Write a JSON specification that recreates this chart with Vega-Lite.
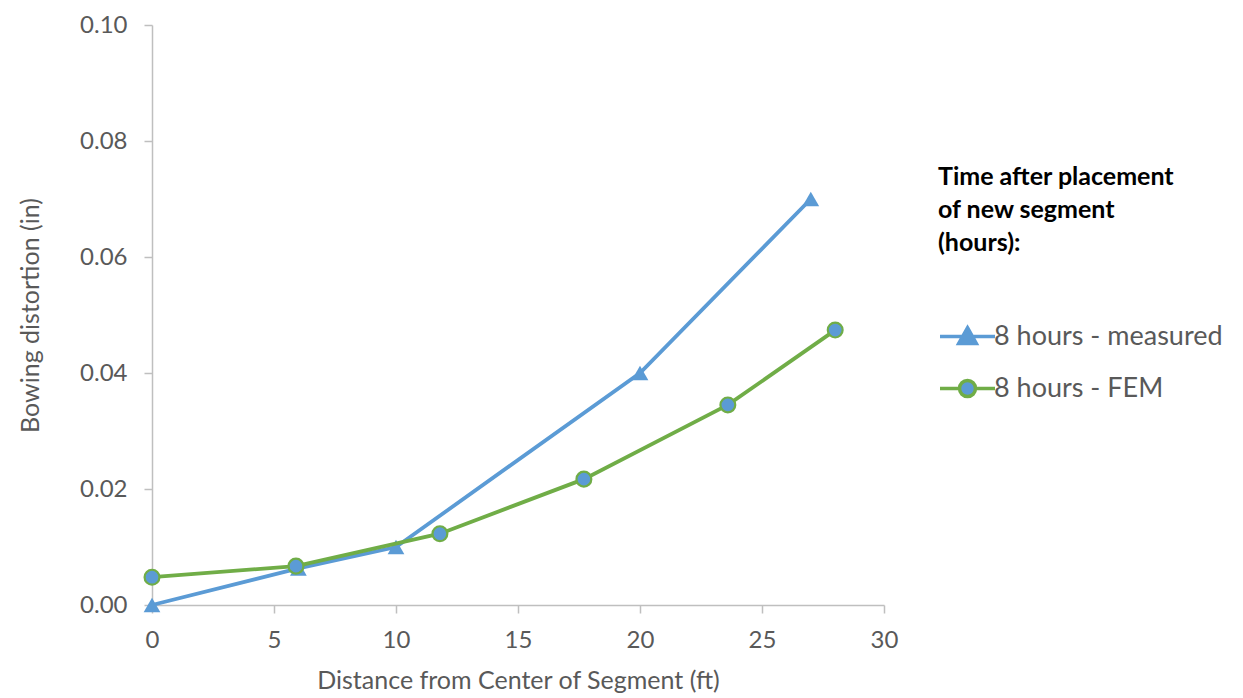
{
  "$schema": "https://vega.github.io/schema/vega-lite/v6.json",
  "width": 732,
  "height": 580,
  "autosize": "none",
  "padding": {"left": 152, "top": 25, "right": 359, "bottom": 93},
  "background": "white",
  "config": {
    "view": {"stroke": null},
    "font": "Lato",
    "axis": {
      "grid": false,
      "domainColor": "#bfbfbf",
      "domainWidth": 1.5,
      "tickColor": "#bfbfbf",
      "tickWidth": 1.5,
      "tickSize": 8,
      "labelColor": "#595959",
      "labelFont": "Lato",
      "labelFontSize": 24,
      "labelFlush": false,
      "titleColor": "#595959",
      "titleFont": "Lato",
      "titleFontSize": 25,
      "titleFontWeight": "normal"
    }
  },
  "data": {
    "values": [
      {"series": "8 hours - measured", "x": 0, "y": 0.0},
      {"series": "8 hours - measured", "x": 6, "y": 0.0063},
      {"series": "8 hours - measured", "x": 10, "y": 0.0100},
      {"series": "8 hours - measured", "x": 20, "y": 0.0400},
      {"series": "8 hours - measured", "x": 27, "y": 0.0700},
      {"series": "8 hours - FEM", "x": 0, "y": 0.0048},
      {"series": "8 hours - FEM", "x": 5.9, "y": 0.0067},
      {"series": "8 hours - FEM", "x": 11.8, "y": 0.0123},
      {"series": "8 hours - FEM", "x": 17.7, "y": 0.0217},
      {"series": "8 hours - FEM", "x": 23.6, "y": 0.0345},
      {"series": "8 hours - FEM", "x": 28, "y": 0.0474}
    ]
  },
  "encoding": {
    "x": {
      "field": "x",
      "type": "quantitative",
      "scale": {"domain": [0, 30], "nice": false, "zero": false},
      "axis": {"values": [0, 5, 10, 15, 20, 25, 30], "title": "Distance from Center of Segment (ft)", "labelPadding": 15, "titlePadding": 16}
    },
    "y": {
      "field": "y",
      "type": "quantitative",
      "scale": {"domain": [0, 0.1], "nice": false},
      "axis": {"values": [0, 0.02, 0.04, 0.06, 0.08, 0.1], "format": ".2f", "title": "Bowing distortion (in)", "labelPadding": 17, "titlePadding": 36}
    }
  },
  "layer": [
    {
      "transform": [{"filter": "datum.series == '8 hours - measured'"}],
      "mark": {"type": "line", "color": "#5B9BD5", "strokeWidth": 3.8}
    },
    {
      "transform": [{"filter": "datum.series == '8 hours - measured'"}],
      "mark": {"type": "point", "shape": "triangle-up", "filled": true, "color": "#5B9BD5", "opacity": 1, "size": 280}
    },
    {
      "transform": [{"filter": "datum.series == '8 hours - FEM'"}],
      "mark": {"type": "line", "color": "#70AD47", "strokeWidth": 3.8}
    },
    {
      "transform": [{"filter": "datum.series == '8 hours - FEM'"}],
      "mark": {"type": "point", "shape": "circle", "filled": true, "fill": "#5B9BD5", "stroke": "#70AD47", "strokeWidth": 2.2, "opacity": 1, "size": 220}
    },
    {
      "mark": {"type": "point", "filled": true, "size": 0, "strokeWidth": 3.5, "opacity": 1},
      "encoding": {
        "shape": {
          "field": "series",
          "type": "nominal",
          "scale": {
            "domain": ["8 hours - measured", "8 hours - FEM"],
            "range": [
              "M-1,0H1M0,-0.32L0.32,0.25L-0.32,0.25Z",
              "M-1,0H-0.29M0.29,0H1M0.29,0A0.29,0.29 0 1,1 -0.29,0A0.29,0.29 0 1,1 0.29,0Z"
            ]
          },
          "legend": {
            "orient": "none",
            "legendX": 786,
            "legendY": 140,
            "title": ["Time after placement", "of new segment", "(hours):"],
            "titleFont": "Lato",
            "titleFontSize": 25,
            "titleFontWeight": "bold",
            "titleColor": "#000000",
            "titleLineHeight": 33,
            "titlePadding": 51,
            "titleLimit": 400,
            "labelFont": "Lato",
            "labelFontSize": 27,
            "labelColor": "#595959",
            "labelLimit": 400,
            "labelOffset": -3,
            "symbolSize": 3025,
            "symbolStrokeWidth": 3.5,
            "symbolOpacity": 1,
            "rowPadding": 8
          }
        },
        "fill": {
          "field": "series",
          "type": "nominal",
          "scale": {"domain": ["8 hours - measured", "8 hours - FEM"], "range": ["#5B9BD5", "#5B9BD5"]}
        },
        "stroke": {
          "field": "series",
          "type": "nominal",
          "scale": {"domain": ["8 hours - measured", "8 hours - FEM"], "range": ["#5B9BD5", "#70AD47"]}
        }
      }
    }
  ]
}
